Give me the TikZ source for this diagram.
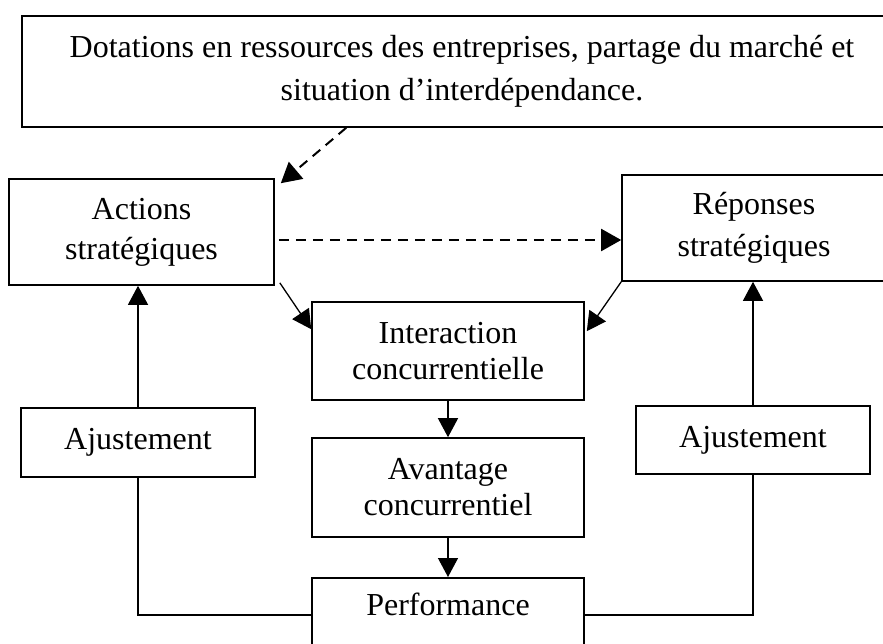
\documentclass[tikz,border=0pt]{standalone}
\usepackage{fontspec}
\setmainfont{Liberation Serif}
\usetikzlibrary{arrows.meta}
\begin{document}
\begin{tikzpicture}[x=1pt,y=-1pt,
  box/.style={draw, line width=1.6pt, align=center, inner sep=0pt, font=\fontsize{32}{40}\selectfont},
  arr/.style={-{Triangle[length=19pt,width=20pt]}, line width=1.3pt},
  darr/.style={-{Triangle[length=20pt,width=22pt]}, line width=2pt, dash pattern=on 10pt off 7pt},
  link/.style={line width=1.3pt}]
\useasboundingbox (0,0) rectangle (883,643);
\clip (0,0) rectangle (883,643);
\node[box, minimum width=880pt, minimum height=111pt, font=\fontsize{32}{43}\selectfont] (top) at (462,71.5) {Dotations en ressources des entreprises, partage du marché et\\situation d’interdépendance.};
\node[box, minimum width=265pt, minimum height=106pt] (act) at (141.5,232) {Actions\\stratégiques};
\node[box, minimum width=264pt, minimum height=106pt, font=\fontsize{32}{42}\selectfont] (rep) at (754,228) {Réponses\\stratégiques};
\node[box, minimum width=272pt, minimum height=98pt, font=\fontsize{32}{36}\selectfont] (int) at (448,351) {Interaction\\concurrentielle};
\node[box, minimum width=272pt, minimum height=99pt, font=\fontsize{32}{36}\selectfont] (ava) at (448,487.5) {Avantage\\concurrentiel};
\node[box, minimum width=272pt, text height=22pt, text depth=45pt, inner ysep=16pt, anchor=north] (perf) at (448,577) {Performance};
\node[box, minimum width=234pt, minimum height=69pt] (ajl) at (138,442.5) {Ajustement};
\node[box, minimum width=234pt, minimum height=68pt] (ajr) at (753,440) {Ajustement};
% connectors
\draw[darr] ([xshift=325pt]top.south west) -- ([xshift=6pt,yshift=-5pt]act.north east);
\draw[darr] ([xshift=4pt,yshift=-8pt]act.east) coordinate (h1) -- (h1 -| rep.west);
\draw[arr] ([xshift=5pt,yshift=3pt]act.south east) -- ([yshift=-28pt]int.north west);
\draw[arr] (rep.south west) -- ([xshift=2pt,yshift=-30pt]int.north east);
\draw[arr] (int.south) -- (ava.north);
\draw[arr] (ava.south) -- (perf.north);
\draw[arr] (ajl.north) -- (ajl.north |- act.south);
\draw[arr] (ajr.north) -- (ajr.north |- rep.south);
\draw[link] ([yshift=-38pt]perf.north west) -| (ajl.south);
\draw[link] ([yshift=-38pt]perf.north east) -| (ajr.south);
\end{tikzpicture}
\end{document}
